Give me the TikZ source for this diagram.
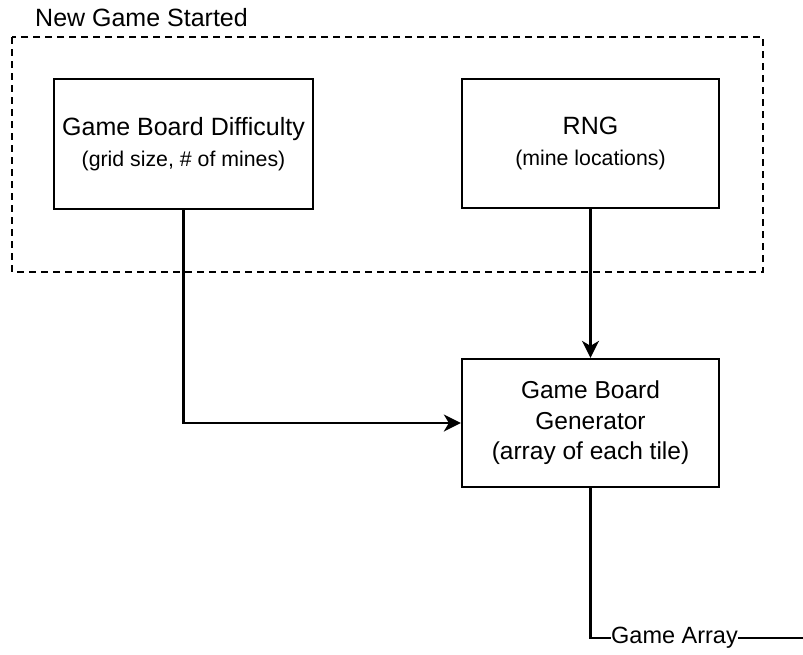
\documentclass[tikz,border=0pt]{standalone}
\usepackage{fontspec}
\setmainfont{Liberation Sans}
\usetikzlibrary{arrows.meta}
\tikzset{
  boxnode/.style={draw=black, line width=2.3pt, rectangle, inner sep=0pt, align=center, font=\fontsize{25}{31}\selectfont},
  conn/.style={draw=black, line width=2.3pt},
  arr/.style={conn, -{Stealth[length=17pt, width=17pt, inset=5pt]}},
}
\newcommand{\smalltxt}[1]{{\fontsize{21.3}{31}\selectfont #1}}
\begin{document}
\begin{tikzpicture}[x=1pt,y=-1pt]
  \useasboundingbox (0,0) rectangle (803,654);
  % group frame
  \draw[black, line width=2pt, dash pattern=on 7pt off 5pt] (12,37) rectangle (763,272);
  \node[anchor=west, font=\fontsize{25}{30}\selectfont, inner sep=0pt] (title) at (35,18) {New Game Started};
  % boxes
  \node[boxnode, minimum width=259pt, minimum height=130pt] (diff) at (183.5,144)
    {Game Board Difficulty\\\smalltxt{(grid size, \# of mines)}};
  \node[boxnode, minimum width=257pt, minimum height=129pt] (rng) at (590.5,143.5)
    {RNG\\\smalltxt{(mine locations)}};
  \node[boxnode, minimum width=257pt, minimum height=128pt, font=\fontsize{24.5}{30.5}\selectfont] (gen) at (590.5,423)
    {Game Board\\Generator\\(array of each tile)};
  % output label
  \node[font=\fontsize{23.5}{28}\selectfont, inner sep=0pt, minimum width=125pt, minimum height=20pt] (out) at (674.5,638) {Game Array};
  \coordinate (outend) at (803,638);
  % connectors
  \draw[arr] (diff.south) |- (gen.west);
  \draw[arr] (rng.south) -- (gen.north);
  \draw[conn] (gen.south) |- (out.west);
  \draw[conn] (out.east) -- (outend);
\end{tikzpicture}
\end{document}
